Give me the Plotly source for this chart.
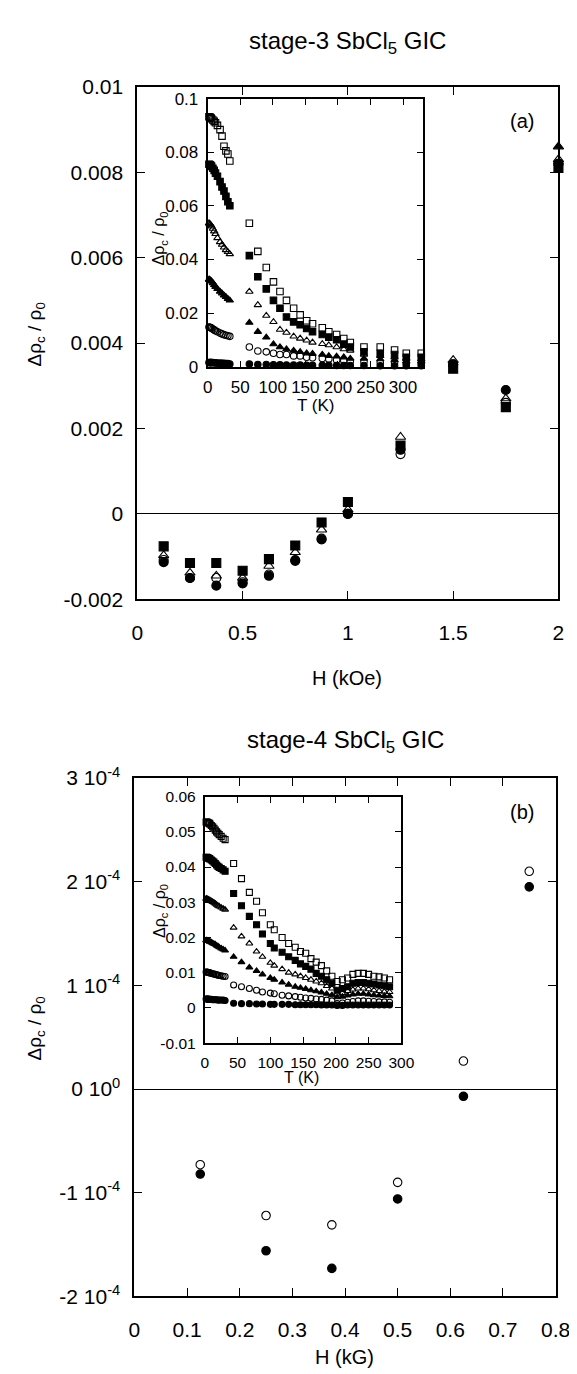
import plotly.graph_objects as go

W, H = 577, 1374


def px(x):
    return x / W


def py(y):
    return 1 - y / H


# ---------------- Panel (a): main data, H in kOe ----------------
H_a = [0.125, 0.25, 0.375, 0.5, 0.625, 0.75, 0.875, 1.0, 1.25, 1.5, 1.75, 2.0]
a_fsq = [-0.00076, -0.00115, -0.00115, -0.00133, -0.00106, -0.00074, -0.0002, 0.00028, 0.0016, 0.0034, 0.0025, 0.0081]
a_otr = [-0.00097, -0.00138, -0.00145, -0.0015, -0.00122, -0.0009, -0.00037, 0.0001, 0.0018, 0.0036, 0.0027, 0.0083]
a_oci = [-0.00108, -0.0015, -0.0015, -0.0016, -0.00142, -0.00108, -0.00058, 0.0, 0.0014, 0.0035, 0.0026, 0.0082]
a_fci = [-0.00113, -0.0015, -0.00168, -0.00163, -0.00145, -0.0011, -0.0006, 0.0, 0.0015, 0.0035, 0.0029, 0.0082]
H_a_ftr = [2.0]
a_ftr = [0.0086]

# ---------------- Panel (a) inset: T dependence ----------------
T_a_low = [2, 3, 4, 5, 6, 8, 10, 12, 15, 19, 22, 25, 28, 31, 34]
T_a_high = [64, 77, 90, 101, 111, 121, 132, 142, 152, 161, 176, 186, 198, 209, 219, 240, 265, 287, 305, 328]
ia_osq = [0.0932, 0.0931, 0.093, 0.0928, 0.0925, 0.092, 0.0915, 0.091, 0.090, 0.0884, 0.086, 0.0822, 0.0805, 0.0793, 0.0767,
          0.0535, 0.043, 0.037, 0.0316, 0.028, 0.0247, 0.0218, 0.0193, 0.0171, 0.016, 0.0145, 0.013, 0.012, 0.0105, 0.009, 0.0073, 0.0073, 0.0062, 0.005, 0.005]
ia_fsq = [0.0755, 0.0754, 0.0752, 0.075, 0.0747, 0.074, 0.0732, 0.0722, 0.071, 0.069, 0.067, 0.0655, 0.0635, 0.0615, 0.060,
          0.0414, 0.0335, 0.029, 0.0247, 0.0218, 0.0185, 0.0167, 0.0156, 0.0142, 0.013, 0.012, 0.011, 0.010, 0.0084, 0.0073, 0.0055, 0.005, 0.0045, 0.0035, 0.0035]
ia_otr = [0.0535, 0.0533, 0.053, 0.0527, 0.0523, 0.0515, 0.0505, 0.0495, 0.048, 0.0465, 0.0455, 0.0445, 0.0435, 0.0428, 0.042,
          0.028, 0.023, 0.019, 0.0167, 0.0138, 0.0127, 0.0113, 0.0105, 0.0098, 0.009, 0.0085, 0.008, 0.0073, 0.0065, 0.006, 0.0045, 0.004, 0.0035, 0.003, 0.0028]
ia_ftr = [0.0325, 0.0324, 0.0322, 0.032, 0.0318, 0.0312, 0.0305, 0.0298, 0.029, 0.028, 0.0273, 0.0266, 0.026, 0.0253, 0.0247,
          0.0164, 0.013, 0.0109, 0.0084, 0.0073, 0.0065, 0.006, 0.0055, 0.005, 0.0048, 0.0045, 0.004, 0.0038, 0.0035, 0.003, 0.003, 0.0028, 0.0025, 0.002, 0.002]
ia_oci = [0.0148, 0.0147, 0.0146, 0.0145, 0.0143, 0.014, 0.0137, 0.0134, 0.013, 0.0125, 0.0122, 0.0119, 0.0117, 0.0115, 0.0113,
          0.0073, 0.0058, 0.0055, 0.005, 0.0045, 0.0045, 0.004, 0.004, 0.0035, 0.0033, 0.003, 0.0028, 0.0025, 0.0023, 0.002, 0.0018, 0.0015, 0.0015, 0.0012, 0.0012]
ia_fci = [0.0015, 0.0015, 0.0015, 0.0015, 0.0015, 0.0015, 0.0014, 0.0014, 0.0013, 0.0013, 0.0012, 0.0012, 0.0011, 0.0011, 0.001,
          0.001, 0.0008, 0.0008, 0.0007, 0.0007, 0.0006, 0.0006, 0.0006, 0.0005, 0.0005, 0.0005, 0.0005, 0.0004, 0.0004, 0.0004, 0.0004, 0.0003, 0.0003, 0.0003, 0.0003]

# ---------------- Panel (b): main data, H in kG ----------------
H_b = [0.125, 0.25, 0.375, 0.5, 0.625, 0.75]
b_oci = [-0.73e-4, -1.22e-4, -1.31e-4, -0.90e-4, 0.27e-4, 2.1e-4]
b_fci = [-0.82e-4, -1.56e-4, -1.73e-4, -1.06e-4, -0.07e-4, 1.95e-4]

# ---------------- Panel (b) inset ----------------
T_b_low = [2, 3, 4, 5, 6, 7, 8, 10, 12, 14, 16, 18, 20, 22, 25, 28, 31]
T_b_high = [44, 56, 68, 79, 88, 100, 106, 118, 128, 138, 146, 154, 162, 170, 178, 186, 194, 202, 210, 218, 226, 234, 242, 250, 258, 266, 274, 282]
ib_osq = [0.0528, 0.0528, 0.0527, 0.0526, 0.0525, 0.0524, 0.0522, 0.0518, 0.0514, 0.051, 0.0505, 0.05, 0.0496, 0.0492, 0.0487, 0.0482, 0.0478,
          0.041, 0.0367, 0.0328, 0.0303, 0.027, 0.0236, 0.0222, 0.020, 0.0183, 0.0172, 0.016, 0.0155, 0.014, 0.013, 0.012, 0.0105, 0.009, 0.0075, 0.008, 0.0085, 0.0095, 0.0098, 0.0098, 0.0095, 0.009, 0.0088, 0.0085, 0.008]
ib_fsq = [0.0428, 0.0428, 0.0427, 0.0426, 0.0425, 0.0424, 0.0423, 0.042, 0.0417, 0.0414, 0.041, 0.0406, 0.0402, 0.0399, 0.0396, 0.0392, 0.0388,
          0.0325, 0.029, 0.026, 0.0236, 0.021, 0.0183, 0.017, 0.0158, 0.0145, 0.0135, 0.0125, 0.0118, 0.011, 0.0098, 0.009, 0.008, 0.007, 0.005, 0.0055, 0.006, 0.007, 0.0072, 0.0072, 0.007, 0.0068, 0.0065, 0.0063, 0.006]
ib_otr = [0.031, 0.031, 0.0309, 0.0308, 0.0307, 0.0306, 0.0305, 0.0303, 0.0301, 0.0299, 0.0296, 0.0293, 0.029, 0.0288, 0.0285, 0.0282, 0.0279,
          0.0228, 0.0203, 0.0183, 0.016, 0.0145, 0.0128, 0.012, 0.011, 0.010, 0.0095, 0.009, 0.0085, 0.008, 0.0075, 0.007, 0.0062, 0.0055, 0.004, 0.0042, 0.0048, 0.0052, 0.0055, 0.0055, 0.0053, 0.005, 0.0048, 0.0046, 0.0045]
ib_ftr = [0.0192, 0.0192, 0.0191, 0.0191, 0.019, 0.0189, 0.0188, 0.0186, 0.0184, 0.0182, 0.018, 0.0177, 0.0175, 0.0172, 0.0169, 0.0166, 0.0163,
          0.0145, 0.013, 0.0115, 0.0105, 0.0095, 0.0085, 0.008, 0.0072, 0.0066, 0.006, 0.0057, 0.0054, 0.005, 0.0047, 0.0044, 0.004, 0.0036, 0.003, 0.0032, 0.0035, 0.0038, 0.004, 0.004, 0.0038, 0.0036, 0.0035, 0.0034, 0.0033]
ib_oci = [0.0102, 0.0102, 0.0101, 0.0101, 0.01, 0.01, 0.0099, 0.0098, 0.0097, 0.0096, 0.0095, 0.0094, 0.0093, 0.0092, 0.0091, 0.009, 0.0089,
          0.0065, 0.006, 0.0055, 0.005, 0.0045, 0.0042, 0.004, 0.0036, 0.0034, 0.0032, 0.003, 0.0028, 0.0027, 0.0025, 0.0024, 0.0022, 0.002, 0.0012, 0.0014, 0.0016, 0.0018, 0.002, 0.002, 0.0019, 0.0018, 0.0017, 0.0017, 0.0016]
ib_fci = [0.0025, 0.0025, 0.0025, 0.0025, 0.0024, 0.0024, 0.0024, 0.0024, 0.0023, 0.0023, 0.0023, 0.0023, 0.0022, 0.0022, 0.0022, 0.0022, 0.0021,
          0.0013, 0.0012, 0.0012, 0.0011, 0.0011, 0.001, 0.001, 0.001, 0.001, 0.0009, 0.0009, 0.0009, 0.0009, 0.0009, 0.0008, 0.0008, 0.0008, 0.0007, 0.0007, 0.0008, 0.0008, 0.0008, 0.0008, 0.0008, 0.0008, 0.0008, 0.0008, 0.0008]

# tick labels
a_xticks = [0, 0.5, 1, 1.5, 2]
a_xtext = ["0", "0.5", "1", "1.5", "2"]
a_yticks = [-0.002, 0, 0.002, 0.004, 0.006, 0.008, 0.01]
a_ytext = ["-0.002", "0", "0.002", "0.004", "0.006", "0.008", "0.01"]
ia_yticks = [0, 0.02, 0.04, 0.06, 0.08, 0.1]
ia_ytext = ["0", "0.02", "0.04", "0.06", "0.08", "0.1"]
T_ticks = [0, 50, 100, 150, 200, 250, 300]
T_text = ["0", "50", "100", "150", "200", "250", "300"]
b_xticks = [0, 0.1, 0.2, 0.3, 0.4, 0.5, 0.6, 0.7, 0.8]
b_xtext = ["0", "0.1", "0.2", "0.3", "0.4", "0.5", "0.6", "0.7", "0.8"]
b_yticks = [-2e-4, -1e-4, 0, 1e-4, 2e-4, 3e-4]
b_ytext = ["-2 10<sup>-4</sup>", "-1 10<sup>-4</sup>", "0 10<sup>0</sup>", "1 10<sup>-4</sup>", "2 10<sup>-4</sup>", "3 10<sup>-4</sup>"]
ib_yticks = [-0.01, 0, 0.01, 0.02, 0.03, 0.04, 0.05, 0.06]
ib_ytext = ["-0.01", "0", "0.01", "0.02", "0.03", "0.04", "0.05", "0.06"]

FONT = "Liberation Sans, Arial, Helvetica, sans-serif"

fig = go.Figure()


def add(x, y, sym, size, xa, ya):
    fig.add_trace(go.Scatter(
        x=x, y=y, mode="markers", xaxis=xa, yaxis=ya, showlegend=False,
        cliponaxis=False,
        marker=dict(symbol=sym, size=size, color="black",
                    line=dict(color="black", width=1.1)),
    ))


# main (a)
add(H_a_ftr, a_ftr, "triangle-up", 9, "x", "y")
add(H_a, a_fci, "circle", 9, "x", "y")
add(H_a, a_oci, "circle-open", 9, "x", "y")
add(H_a, a_otr, "triangle-up-open", 9, "x", "y")
add(H_a, a_fsq, "square", 9, "x", "y")

# inset (a)
Ta = T_a_low + T_a_high
add(Ta, ia_osq, "square-open", 6.5, "x2", "y2")
add(Ta, ia_fsq, "square", 6.5, "x2", "y2")
add(Ta, ia_otr, "triangle-up-open", 6.5, "x2", "y2")
add(Ta, ia_ftr, "triangle-up", 6.5, "x2", "y2")
add(Ta, ia_oci, "circle-open", 6.5, "x2", "y2")
add(Ta, ia_fci, "circle", 6.5, "x2", "y2")

# main (b)
add(H_b, b_oci, "circle-open", 8.5, "x3", "y3")
add(H_b, b_fci, "circle", 8.5, "x3", "y3")

# inset (b)
Tb = T_b_low + T_b_high
add(Tb, ib_osq, "square-open", 6, "x4", "y4")
add(Tb, ib_fsq, "square", 6, "x4", "y4")
add(Tb, ib_otr, "triangle-up-open", 6, "x4", "y4")
add(Tb, ib_ftr, "triangle-up", 6, "x4", "y4")
add(Tb, ib_oci, "circle-open", 6, "x4", "y4")
add(Tb, ib_fci, "circle", 6, "x4", "y4")


def ax(domain, rng, tv, tt, anchor, size, standoff, lw=2, tl=8, zero=False):
    return dict(
        domain=domain, range=rng, anchor=anchor, tickvals=tv, ticktext=tt,
        ticks="inside", ticklen=tl, tickwidth=1, tickcolor="black",
        showline=True, linecolor="black", linewidth=lw, mirror="ticks",
        showgrid=False, zeroline=zero, zerolinecolor="black", zerolinewidth=1.2,
        tickfont=dict(family=FONT, size=size, color="black"),
        ticklabelstandoff=standoff, fixedrange=True,
    )


fig.update_layout(
    width=W, height=H, margin=dict(l=0, r=0, t=0, b=0),
    paper_bgcolor="white", plot_bgcolor="rgba(0,0,0,0)",
    font=dict(family=FONT, color="black"),
    xaxis=ax([px(128), px(565)], [0, 2], a_xticks, a_xtext, "y", 21, 13),
    yaxis=ax([py(588), py(66)], [-0.002, 0.01], a_yticks, a_ytext, "x", 21, 8, zero=True),
    xaxis2=ax([px(201), px(424)], [0, 330], T_ticks, T_text, "y2", 17, 4, tl=6),
    yaxis2=ax([py(351), py(78)], [0, 0.1], ia_yticks, ia_ytext, "x2", 17, 4, tl=6),
    xaxis3=ax([px(125), px(562)], [0, 0.8], b_xticks, b_xtext, "y3", 21, 13),
    yaxis3=ax([py(1298), py(770)], [-2e-4, 3e-4], b_yticks, b_ytext, "x3", 21, 8, zero=True),
    xaxis4=ax([px(198), px(402)], [0, 300], T_ticks, T_text, "y4", 15.5, 4, tl=6),
    yaxis4=ax([py(1040), py(789)], [-0.01, 0.06], ib_yticks, ib_ytext, "x4", 15.5, 4, tl=6),
)


def note(text, x, y, size, angle=0):
    fig.add_annotation(text=text, x=px(x), y=py(y), xref="paper", yref="paper",
                       showarrow=False, xanchor="center", yanchor="middle",
                       textangle=angle, font=dict(family=FONT, size=size, color="black"))


note("stage-3 SbCl<sub>5</sub> GIC", 346, 21, 24)
note("H (kOe)", 346, 668, 20)
note("Δρ<sub>c</sub> / ρ<sub>0</sub>", 23, 318, 19, -90)
note("(a)", 527, 101, 20)
note("T (K)", 313, 391, 17)
note("Δρ<sub>c</sub> / ρ<sub>0</sub>", 152, 220, 16, -90)

note("stage-4 SbCl<sub>5</sub> GIC", 344, 733, 24)
note("H (kG)", 343, 1360, 20)
note("Δρ<sub>c</sub> / ρ<sub>0</sub>", 23, 1025, 19, -90)
note("(b)", 527, 805, 20)
note("T (K)", 298, 1075, 16)
note("Δρ<sub>c</sub> / ρ<sub>0</sub>", 152, 905, 16, -90)

fig.write_html("out.html")
